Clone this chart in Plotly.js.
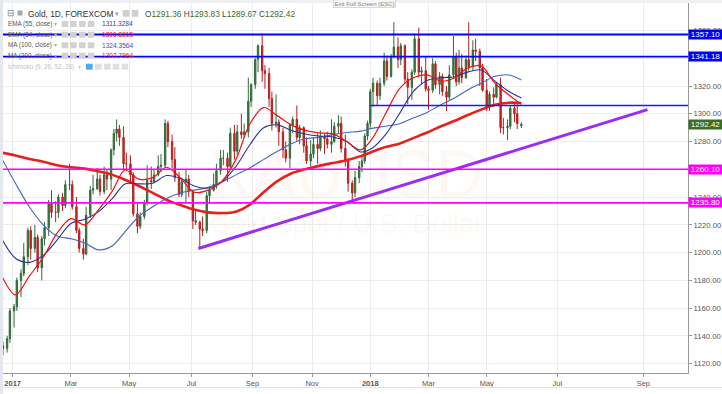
<!DOCTYPE html>
<html><head><meta charset="utf-8">
<script src="https://cdn.plot.ly/plotly-3.0.1.min.js"></script>
<style>html,body{margin:0;padding:0;background:#fff;overflow:hidden}#chart{width:722px;height:394px}</style>
</head><body><div id="chart"></div>
<script>
// ---------- DATA ----------
const candleDates = [
'2016-12-22','2016-12-27','2016-12-29',
'2017-01-03','2017-01-05','2017-01-10','2017-01-12','2017-01-17','2017-01-19','2017-01-24','2017-01-26','2017-01-31',
'2017-02-02','2017-02-07','2017-02-09','2017-02-14','2017-02-16','2017-02-21','2017-02-23','2017-02-28',
'2017-03-02','2017-03-07','2017-03-09','2017-03-14','2017-03-16','2017-03-21','2017-03-23','2017-03-28','2017-03-30',
'2017-04-04','2017-04-06','2017-04-11','2017-04-13','2017-04-18','2017-04-20','2017-04-25','2017-04-27',
'2017-05-02','2017-05-04','2017-05-09','2017-05-11','2017-05-16','2017-05-18','2017-05-23','2017-05-25','2017-05-30',
'2017-06-01','2017-06-06','2017-06-08','2017-06-13','2017-06-15','2017-06-20','2017-06-22','2017-06-27','2017-06-29',
'2017-07-04','2017-07-06','2017-07-11','2017-07-13','2017-07-18','2017-07-20','2017-07-25','2017-07-27',
'2017-08-01','2017-08-03','2017-08-08','2017-08-10','2017-08-15','2017-08-17','2017-08-22','2017-08-24','2017-08-29','2017-08-31',
'2017-09-05','2017-09-07','2017-09-12','2017-09-14','2017-09-19','2017-09-21','2017-09-26','2017-09-28',
'2017-10-03','2017-10-05','2017-10-10','2017-10-12','2017-10-17','2017-10-19','2017-10-24','2017-10-26','2017-10-31',
'2017-11-02','2017-11-07','2017-11-09','2017-11-14','2017-11-16','2017-11-21','2017-11-23','2017-11-28','2017-11-30',
'2017-12-05','2017-12-07','2017-12-12','2017-12-14','2017-12-19','2017-12-21','2017-12-26','2017-12-28',
'2018-01-02','2018-01-04','2018-01-09','2018-01-11','2018-01-16','2018-01-18','2018-01-23','2018-01-25','2018-01-30',
'2018-02-01','2018-02-06','2018-02-08','2018-02-13','2018-02-15','2018-02-20','2018-02-22','2018-02-27',
'2018-03-01','2018-03-06','2018-03-08','2018-03-13','2018-03-15','2018-03-20','2018-03-22','2018-03-27','2018-03-29',
'2018-04-03','2018-04-05','2018-04-10','2018-04-12','2018-04-17','2018-04-19','2018-04-24','2018-04-26',
'2018-05-01','2018-05-03','2018-05-08','2018-05-10','2018-05-15','2018-05-17','2018-05-22','2018-05-24','2018-05-29','2018-05-31',
'2018-06-05'];
const openP = [
1133,1131,1138,
1158,1161,1180,1185,1197,1216,1203,1211,1189,
1210,1218,1235,1229,1229,1240,1234,1249,
1249,1233,1216,1203,1199,1227,1245,1246,1253,
1244,1256,1253,1274,1286,1289,1283,1264,
1264,1256,1228,1219,1226,1236,1252,1251,1256,
1262,1263,1293,1280,1267,1254,1242,1251,1253,
1244,1223,1222,1217,1216,1241,1245,1249,
1259,1268,1268,1262,1286,1273,1287,1285,1287,1309,
1321,1339,1349,1331,1329,1311,1293,1294,
1287,1274,1268,1292,1296,1283,1290,1277,1266,
1271,1278,1275,1284,1282,1278,1280,1291,1293,
1275,1266,1250,1243,1254,1262,1266,1284,
1293,1316,1322,1313,1322,1338,1327,1341,1348,
1339,1349,1325,1319,1330,1354,1330,1331,
1318,1317,1336,1321,1327,1316,1312,1328,1341,
1323,1333,1326,1339,1334,1346,1345,1333,
1317,1305,1314,1312,1321,1290,1290,1291,1304,1300,
1291.36];
const highP = [
1136,1140,1160,
1163,1182,1188,1207,1218,1219,1220,1213,1212,
1222,1238,1245,1237,1242,1243,1252,1264,
1252,1240,1218,1210,1233,1248,1256,1261,1256,
1262,1260,1275,1289,1296,1292,1291,1272,
1270,1258,1236,1229,1238,1263,1262,1260,1270,
1271,1296,1295,1285,1276,1258,1254,1260,1256,
1245,1230,1223,1226,1244,1247,1257,1264,
1274,1274,1272,1290,1292,1292,1300,1293,1326,1322,
1340,1350,1358,1335,1333,1316,1314,1296,
1290,1280,1293,1298,1306,1292,1291,1283,1281,
1283,1286,1288,1286,1287,1296,1294,1299,1298,
1285,1268,1252,1259,1266,1270,1286,1295,
1318,1326,1324,1326,1344,1342,1343,1366,1355,
1351,1350,1330,1332,1358,1362,1334,1341,
1320,1340,1338,1330,1329,1320,1335,1356,1344,
1346,1343,1342,1366,1353,1354,1347,1336,
1325,1316,1319,1323,1326,1297,1296,1306,1308,1307,
1293.83];
const lowP = [
1126,1128,1135,
1146,1158,1168,1183,1191,1195,1200,1186,1180,
1205,1212,1225,1222,1225,1230,1232,1245,
1231,1214,1200,1195,1198,1225,1242,1245,1241,
1242,1245,1245,1270,1280,1277,1260,1260,
1250,1226,1214,1217,1224,1234,1246,1250,1255,
1258,1261,1276,1261,1251,1240,1240,1236,1240,
1217,1220,1204,1212,1214,1235,1244,1246,
1256,1263,1251,1260,1267,1270,1282,1283,1283,1305,
1318,1330,1323,1318,1305,1288,1290,1277,
1268,1265,1261,1286,1280,1278,1272,1264,1262,
1268,1264,1273,1271,1275,1272,1279,1286,1272,
1262,1244,1236,1240,1250,1258,1264,1281,
1290,1305,1306,1310,1320,1324,1326,1340,1333,
1335,1322,1307,1310,1328,1326,1321,1316,
1303,1315,1318,1314,1313,1302,1310,1326,1320,
1321,1322,1325,1331,1331,1338,1320,1316,
1302,1302,1305,1311,1286,1285,1281,1289,1294,1289,
1289.67];
const closeP = [
1131,1138,1158,
1161,1180,1185,1197,1216,1203,1211,1189,1210,
1218,1235,1229,1229,1240,1234,1249,1249,
1233,1216,1203,1199,1227,1245,1246,1253,1244,
1256,1253,1274,1286,1289,1283,1264,1264,
1256,1228,1219,1226,1236,1252,1251,1256,1262,
1263,1293,1280,1267,1254,1242,1251,1253,1244,
1223,1222,1217,1216,1241,1245,1249,1259,
1268,1268,1262,1286,1273,1287,1285,1287,1309,1321,
1339,1349,1331,1329,1311,1293,1294,1287,
1274,1268,1292,1296,1283,1290,1277,1266,1271,
1278,1275,1284,1282,1278,1280,1291,1293,1275,
1266,1250,1243,1254,1262,1266,1284,1293,
1316,1322,1313,1322,1338,1327,1341,1348,1339,
1349,1325,1319,1330,1354,1330,1331,1318,
1317,1336,1321,1327,1316,1312,1328,1341,1323,
1333,1326,1339,1334,1346,1345,1333,1317,
1305,1314,1312,1321,1290,1290,1291,1304,1300,1293,
1292.42];

const maDates = ['2016-12-21','2017-01-04','2017-01-18','2017-02-01','2017-02-15','2017-03-01','2017-03-15','2017-03-29','2017-04-12','2017-04-26',
'2017-05-10','2017-05-24','2017-06-07','2017-06-21','2017-07-05','2017-07-19','2017-08-02','2017-08-16','2017-08-30','2017-09-13',
'2017-09-27','2017-10-11','2017-10-25','2017-11-08','2017-11-22','2017-12-06','2017-12-20','2018-01-03','2018-01-17','2018-01-31',
'2018-02-14','2018-02-28','2018-03-14','2018-03-28','2018-04-11','2018-04-25','2018-05-09','2018-05-23','2018-06-05'];
const ema34 = [1183.5,1169.5,1183,1196.5,1214,1224.5,1220,1231,1244.5,1259.5,1253,1254,1261.5,1253.8,1243.5,1245,1251.5,1267,1292.5,1304.5,
1298.5,1292,1288,1286.3,1285.5,1280,1274,1281.5,1300,1318,1326,1328,1323.5,1326,1333,1334.5,1322,1313.5,1306.82];
const ema55 = [1210,1196,1193,1198,1209,1221,1224,1229.5,1239,1249.5,1249.5,1250,1255.5,1253.5,1248,1246.5,1251,1262,1277.5,1290,
1292,1288,1285.5,1284,1283.3,1280,1272.5,1275,1285,1300,1316,1324,1326,1326.7,1330,1331.5,1323.5,1316,1311.33];
const ma100 = [1268,1250,1233,1220,1212,1210,1207,1202,1205,1215,1226,1233,1239,1243,1245,1247,1251,1256,1261,1267,
1273,1278.5,1282,1283,1285,1286.5,1287.5,1289.5,1291,1292.8,1297,1301,1306.5,1311.5,1317,1322,1327,1328,1324.36];
const ma200 = [1272,1270,1267.5,1265.5,1263,1261.5,1260.5,1258.5,1256,1252.5,1248,1243,1238,1234.3,1231,1229,1228.5,1229.5,1234.5,1243.5,
1251.5,1257,1260,1262.5,1264.5,1266.5,1269.5,1272.5,1276,1278.5,1282.5,1286.5,1291,1295,1299,1303,1306.5,1308,1307.8];

const trendDates = ['2017-07-10','2018-09-04'];
const trendPrices = [1203, 1303];
const blueLevels = [1357.10, 1341.18];
const pinkLevels = [1260.10, 1235.80];
const midLevel = 1306.0;
const midLevelStart = '2018-01-02';
const lastClose = 1292.42;

const headerSymbol = 'Gold, 1D, FOREXCOM';
const ohlcLabels = ['O','H','L','C'];
const ohlcValues = ['1291.36','1293.83','1289.67','1292.42'];
const indicatorNames = ['EMA (55, close)','EMA (34, close)','MA (100, close)','MA (200, close)'];
const indicatorValues = ['1311.3284','1306.8215','1324.3564','1307.7964'];

const yTickVals = [1120,1140,1160,1180,1200,1220,1240,1280,1300,1320,1360];
const xTickDates = ['2017-01-02','2017-03-01','2017-05-01','2017-07-03','2017-09-01','2017-11-01','2018-01-02','2018-03-01','2018-05-01','2018-07-01','2018-09-01'];
const xTickText = ['<b>2017</b>','Mar','May','Jul','Sep','Nov','<b>2018</b>','Mar','May','Jul','Sep'];
const holidays = ['2017-04-14','2017-12-25','2018-01-01','2018-03-30'];

// ---------- LAYOUT HELPERS ----------
const PL=3, PT=3, PW=685, PH=370;
const fx = x => (x-PL)/PW;
const fy = y => 1-(y-PT)/PH;

const saturdays = [];
for (let t = Date.UTC(2016,11,17); t <= Date.UTC(2018,5,2); t += 7*86400000) {
  saturdays.push(new Date(t).toISOString().slice(0,10));
}

const BLUE='#0000ff', PINK='#ff00ff';
const traces = [
  {type:'candlestick', x:candleDates, open:openP, high:highP, low:lowP, close:closeP,
   increasing:{line:{color:'#33693a',width:1}, fillcolor:'#3b7d3b'},
   decreasing:{line:{color:'#b41f1f',width:1}, fillcolor:'#d92020'},
   whiskerwidth:0, hoverinfo:'skip', showlegend:false},
  {type:'scatter', mode:'lines', x:maDates, y:ma200, line:{color:'#e8201c', width:2.6, shape:'spline', smoothing:0.9}, hoverinfo:'skip'},
  {type:'scatter', mode:'lines', x:maDates, y:ma100, line:{color:'#4565c0', width:1.1, shape:'spline', smoothing:0.9}, hoverinfo:'skip'},
  {type:'scatter', mode:'lines', x:maDates, y:ema55, line:{color:'#24339e', width:1.1, shape:'spline', smoothing:0.9}, hoverinfo:'skip'},
  {type:'scatter', mode:'lines', x:maDates, y:ema34, line:{color:'#f01010', width:1.2, shape:'spline', smoothing:0.9}, hoverinfo:'skip'},
  {type:'scatter', mode:'lines', x:trendDates, y:trendPrices, line:{color:'#9b2cf2', width:3}, hoverinfo:'skip'}
];

const shapes = [];
shapes.push({type:'rect', xref:'paper', yref:'paper', x0:fx(0), x1:fx(722), y0:fy(3), y1:fy(0), fillcolor:'#eef0f3', line:{width:0}, layer:'below'});
shapes.push({type:'rect', xref:'paper', yref:'paper', x0:fx(0), x1:fx(3), y0:fy(394), y1:fy(0), fillcolor:'#e4e7ec', line:{width:0}, layer:'below'});
shapes.push({type:'line', xref:'paper', yref:'paper', x0:fx(3), x1:fx(722), y0:fy(387.5), y1:fy(387.5), line:{color:'#e4e4e4', width:1}});
blueLevels.forEach(v => shapes.push({type:'line', xref:'paper', x0:0, x1:1, yref:'y', y0:v, y1:v, line:{color:BLUE, width:1.8}}));
pinkLevels.forEach(v => shapes.push({type:'line', xref:'paper', x0:0, x1:1, yref:'y', y0:v, y1:v, line:{color:PINK, width:1.6}}));
shapes.push({type:'line', xref:'x', x0:midLevelStart, x1:'2018-10-03 05:00', yref:'y', y0:midLevel, y1:midLevel, line:{color:'#1a1aff', width:1.4}});

const box = (x0,x1,y0,y1,c) => shapes.push({type:'rect', xref:'paper', yref:'paper', x0:fx(x0), x1:fx(x1), y0:fy(y1), y1:fy(y0), fillcolor:c, line:{width:0}});
box(17.5,22.5,10.5,15.5,'#a8a8a8');
box(122.7,129.3,10,16.7,'#cfcfcf');
box(131.7,138.3,10,16.7,'#cfcfcf');
const rowY = [24, 34.7, 45.2, 55.7];
rowY.forEach(y => { [61.7,70,79,87.7].forEach(x => box(x, x+6.6, y-3, y+3, '#d2d2d2')); });
const ichY = 66.7;
box(86,92.7,ichY-3,ichY+3,'#56a8ea');
[95,104,112.7,121.7].forEach(x => box(x, x+6.6, ichY-3, ichY+3, '#e0e0e0'));

const annotations = [];
const txt = (text, x, y, size, color, extra) => annotations.push(Object.assign({text, xref:'paper', yref:'paper', x:fx(x), y:fy(y), xanchor:'left', yanchor:'middle', showarrow:false, font:{size, color}}, extra||{}));

// watermark
annotations.push({text:'XAUUSD', xref:'paper', yref:'paper', x:fx(345), y:fy(174), xanchor:'center', yanchor:'middle', showarrow:false, font:{size:66, color:'rgba(240,140,60,0.06)'}});
annotations.push({text:'Gold Spot / U.S. Dollar', xref:'paper', yref:'paper', x:fx(346), y:fy(224), xanchor:'center', yanchor:'middle', showarrow:false, font:{size:27, color:'rgba(240,140,60,0.06)'}});

txt('⊟', 4.5, 13.3, 9, '#8a8a8a');
txt(headerSymbol, 25.5, 13.6, 8.3, '#333');
txt('▾', 112.5, 13.3, 7, '#999');
const ohlcText = ohlcLabels.map((l,i) => l + '<span style="color:#3b6e2c">' + ohlcValues[i] + '</span>').join(' ');
txt(ohlcText, 142.5, 13.6, 8.3, '#444');

const valColors = ['#3043a8','#e81010','#3a52b5','#e81010'];
indicatorNames.forEach((n,i) => {
  txt(n, 5.5, rowY[i], 6.3, '#555');
  txt('▾', 51.5, rowY[i], 5.5, '#aaa');
  txt(indicatorValues[i], 99.5, rowY[i], 6.6, valColors[i]);
});
txt('Ichimoku (9, 26, 52, 26)', 5.5, ichY, 6.3, '#c2c2c2');
txt('▾', 75.5, ichY, 5.5, '#c8c8c8');

annotations.push({text:'Exit Full Screen (ESC)', xref:'paper', yref:'paper', x:fx(364.5), y:fy(4), xanchor:'center', yanchor:'middle', showarrow:false,
  font:{size:6, color:'#8a8a8a'}, bgcolor:'#f6f6f6', bordercolor:'#d8d8d8', borderwidth:1, borderpad:0.5});

const priceLabel = (v, bg) => annotations.push({text:v.toFixed(2), xref:'paper', yref:'y', x:1, y:v, xanchor:'left', yanchor:'middle', showarrow:false,
  bgcolor:bg, font:{size:8, color:'#fff'}, width:32, height:7.6, borderpad:0.6, align:'center'});
blueLevels.forEach(v => priceLabel(v, BLUE));
priceLabel(lastClose, '#3b6e23');
pinkLevels.forEach(v => priceLabel(v, PINK));

const layout = {
  width:722, height:394, margin:{l:3, r:34, t:3, b:21, pad:0},
  paper_bgcolor:'#ffffff', plot_bgcolor:'#ffffff', showlegend:false,
  font:{family:'Liberation Sans, Arial, sans-serif', color:'#555'},
  xaxis:{type:'date', range:['2016-12-22 00:30','2018-10-03 05:00'],
    rangebreaks:[{values:saturdays, dvalue:172800000},{values:holidays, dvalue:86400000}],
    rangeslider:{visible:false}, tickmode:'array', tickvals:xTickDates, ticktext:xTickText,
    ticks:'outside', ticklen:3, tickcolor:'#999', showline:true, linecolor:'#9a9a9a', linewidth:1,
    showgrid:true, gridcolor:'#ececec', gridwidth:1, zeroline:false, tickfont:{size:7.5, color:'#555'}, fixedrange:true},
  yaxis:{side:'right', range:[1113.3,1379.8], tickmode:'array', tickvals:yTickVals, tickformat:'.2f',
    ticks:'outside', ticklen:3, tickcolor:'#999', showline:true, linecolor:'#9a9a9a', linewidth:1,
    showgrid:true, gridcolor:'#ececec', gridwidth:1, zeroline:false, tickfont:{size:7.7, color:'#555'}, fixedrange:true},
  shapes, annotations
};
// gridlines for hidden tick levels (1260, 1340) as in the reference
[1260,1340].forEach(v => shapes.push({type:'line', xref:'paper', x0:0, x1:1, yref:'y', y0:v, y1:v, line:{color:'#ececec', width:1}, layer:'below'}));

Plotly.newPlot('chart', traces, layout, {staticPlot:true, displayModeBar:false});
</script>
</body></html>
